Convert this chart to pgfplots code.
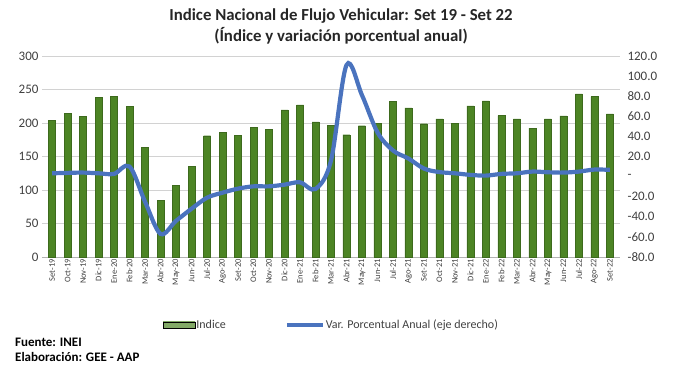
\documentclass[border=0pt]{standalone}
\usepackage{pgfplots}
\pgfplotsset{compat=1.18}
\usepackage{pgfplotstable}
\usepackage{fontspec}
\setmainfont{Carlito}
\definecolor{bardark}{HTML}{4C8424}
\definecolor{barlight}{HTML}{9AD46A}
\definecolor{lineblue}{HTML}{4A73BE}
\definecolor{txt}{HTML}{404040}

\pgfplotstableread{
x y
0 204
1 214.5
2 209.5
3 238.5
4 239.5
5 224.5
6 164
7 85
8 106.5
9 135.5
10 181
11 186.5
12 181.5
13 194
14 191
15 219.5
16 227
17 201.5
18 197
19 182.5
20 196
21 200
22 232
23 222.5
24 199
25 206
26 200
27 225.5
28 233
29 211
30 206
31 192.5
32 206
33 210.5
34 243.5
35 239.5
36 213.5
}\indice

\pgfplotstableread{
x y
0 3.3
1 3.7
2 4
3 3.3
4 2.7
5 10
6 -25
7 -57
8 -44
9 -32
10 -21
11 -16
12 -12
13 -9.7
14 -9.7
15 -8
16 -5.7
17 -12.3
18 16
19 111
20 81
21 44
22 26
23 18
24 8
25 4.5
26 3.3
27 1.7
28 1
29 2.7
30 3.3
31 5
32 4.3
33 4
34 5
35 7
36 6.7
}\variacion

\begin{document}
\begin{tikzpicture}
\path[use as bounding box] (0pt,0pt) rectangle (681pt,-386pt);
\pgfplotsset{
  common/.style={
    scale only axis, width=578pt, height=201pt,
    anchor=south west, at={(42pt,-257pt)},
    xmin=-0.65, xmax=36.65,
    /pgf/number format/assume math mode=true,
    tick label style={text=txt},
    major tick length=0pt,
  }
}
\begin{axis}[common,
  ymin=0, ymax=300, ytick={0,50,...,300},
  ymajorgrids, grid style={gray!35, line width=0.6pt},
  axis y line*=left, y axis line style={draw=none},
  axis x line*=bottom, x axis line style={gray!60, line width=0.6pt},
  yticklabel style={font=\fontsize{13}{13}\selectfont},
  xtick={0,...,36},
  xticklabels={Set-19,Oct-19,Nov-19,Dic-19,Ene-20,Feb-20,Mar-20,Abr-20,May-20,Jun-20,Jul-20,Ago-20,Set-20,Oct-20,Nov-20,Dic-20,Ene-21,Feb-21,Mar-21,Abr-21,May-21,Jun-21,Jul-21,Ago-21,Set-21,Oct-21,Nov-21,Dic-21,Ene-22,Feb-22,Mar-22,Abr-22,May-22,Jun-22,Jul-22,Ago-22,Set-22},
  xticklabel style={font=\fontsize{8.5}{8.5}\selectfont, rotate=90, anchor=east, inner sep=2pt},
]
\addplot[ybar, bar width=7pt, draw=bardark!80!black, line width=0.3pt,
  left color=bardark, middle color=barlight, right color=bardark] table[x=x,y=y] {\indice};
\end{axis}
\begin{axis}[common,
  ymin=-80, ymax=120, ytick={-80,-60,...,120},
  yticklabels={-80.0,-60.0,-40.0,-20.0,-,20.0,40.0,60.0,80.0,100.0,120.0},
  axis y line*=right, y axis line style={draw=none},
  axis x line=none,
  yticklabel style={font=\fontsize{13}{13}\selectfont, anchor=west, xshift=4pt},
  xtick=\empty,
  legend style={at={(axis description cs:0.209,-0.338)}, anchor=west, draw=none, fill=none,
    legend columns=2, font=\fontsize{12}{12}\selectfont, text=txt,
    /tikz/every even column/.append style={column sep=58pt},
    inner sep=0pt, nodes={inner sep=1pt}},
]
\addlegendimage{legend image code/.code={\fill[left color=bardark!70, middle color=barlight, right color=bardark!70, shading angle=0] (0pt,-3pt) rectangle (32pt,3pt);}}
\addlegendentry{Indice}
\addplot[color=lineblue, line width=4.2pt, smooth, tension=0.55,
  legend image code/.code={\draw[lineblue, line width=4pt] (0pt,0pt) -- (36pt,0pt);}] table[x=x,y=y] {\variacion};
\addlegendentry{Var. Porcentual Anual (eje derecho)}
\end{axis}
\node[font=\bfseries\fontsize{16.8}{16.8}\selectfont, text=black!85] at (341pt,-16pt) {Indice Nacional de Flujo Vehicular: Set 19 - Set 22};
\node[font=\bfseries\fontsize{16.8}{16.8}\selectfont, text=black!85] at (341pt,-36pt) {(Índice y variación porcentual anual)};
\node[font=\bfseries\fontsize{13}{13}\selectfont, anchor=west, inner sep=0pt] at (15pt,-342pt) {Fuente: INEI};
\node[font=\bfseries\fontsize{13}{13}\selectfont, anchor=west, inner sep=0pt] at (15pt,-357pt) {Elaboración: GEE - AAP};
\end{tikzpicture}
\end{document}
